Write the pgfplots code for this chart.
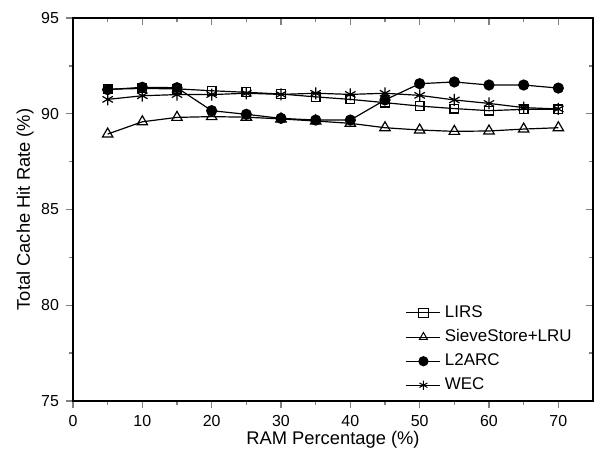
\documentclass[border=0pt]{standalone}
\usepackage{fontspec}
\setmainfont{Liberation Sans}
\usepackage{pgfplots}
\pgfplotsset{compat=1.18}

\begin{document}
\begin{tikzpicture}
\useasboundingbox (-36.5bp,-26bp) rectangle (263.5bp,200.5bp);
\pgfplotsset{
  common/.style={
    scale only axis,
    width=260bp, height=191.5bp,
    at={(0,0)}, anchor=south west,
    xmin=0, xmax=75, ymin=75, ymax=95,
    xtick={0,10,...,70}, ytick={75,80,...,95},
    minor x tick num=1, minor y tick num=1,
    axis line style={line width=0.7pt},
    major tick style={line width=0.7pt},
    minor tick style={line width=0.7pt},
    major tick length=3.5bp, minor tick length=2bp,
  }
}
\begin{axis}[
  common,
  xtick pos=left, ytick pos=left,
  tick align=outside,
  /pgf/number format/assume math mode=true,
  ticklabel style={font=\fontsize{8}{9.6}\selectfont},
  label style={font=\fontsize{9.2}{11}\selectfont},
  xlabel={RAM Percentage (\%)},
  ylabel={Total Cache Hit Rate (\%)},
  xlabel style={yshift=4.5bp},
  ylabel style={yshift=-3bp},
  legend style={at={(0.628,0.0)}, anchor=south west, draw=none, fill=none,
    font=\fontsize{8.5}{10}\selectfont, row sep=0.6bp},
  legend cell align=left,
  legend image post style={mark size=2.3bp, line width=0.5pt},
  every axis plot/.append style={black, line width=0.6pt},
]
\addplot[mark=square, mark size=2.2bp, mark options={fill=white, solid}] coordinates {
(5,91.28)(10,91.32)(15,91.30)(20,91.20)(25,91.12)(30,91.03)(35,90.88)(40,90.75)(45,90.58)(50,90.40)(55,90.27)(60,90.16)(65,90.23)(70,90.23)};
\addlegendentry{LIRS}
\addplot[mark=triangle, mark size=3bp, mark options={fill=white, solid}] coordinates {
(5,88.94)(10,89.58)(15,89.81)(20,89.85)(25,89.82)(30,89.73)(35,89.62)(40,89.50)(45,89.27)(50,89.15)(55,89.08)(60,89.10)(65,89.20)(70,89.27)};
\addlegendentry{SieveStore+LRU}
\addplot[mark=*, mark size=2.5bp, mark options={fill=black, solid}] coordinates {
(5,91.26)(10,91.38)(15,91.36)(20,90.16)(25,89.97)(30,89.76)(35,89.67)(40,89.67)(45,90.72)(50,91.57)(55,91.66)(60,91.50)(65,91.50)(70,91.34)};
\addlegendentry{L2ARC}
\addplot[mark=asterisk, mark size=3bp, mark options={solid}] coordinates {
(5,90.75)(10,90.94)(15,91.00)(20,91.00)(25,91.07)(30,91.01)(35,91.07)(40,91.01)(45,91.07)(50,90.96)(55,90.72)(60,90.54)(65,90.32)(70,90.25)};
\addlegendentry{WEC}
\end{axis}
\begin{axis}[
  common,
  xtick pos=right, ytick pos=right,
  tick align=inside,
  xticklabels={}, yticklabels={},
]
\end{axis}
\end{tikzpicture}
\end{document}
